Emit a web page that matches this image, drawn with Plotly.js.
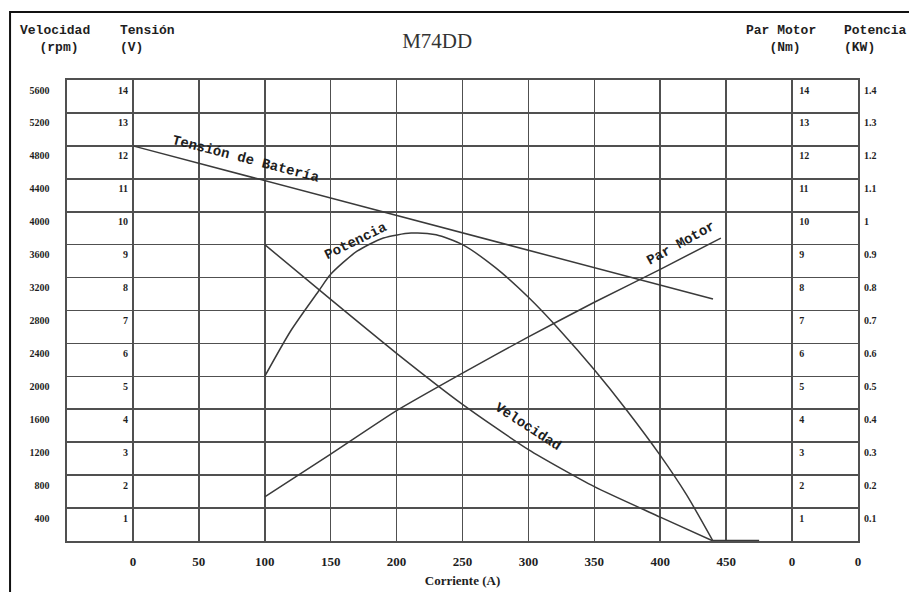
<!DOCTYPE html>
<html>
<head>
<meta charset="utf-8">
<script src="https://cdn.plot.ly/plotly-3.0.1.min.js"></script>
<style>html,body{margin:0;padding:0;background:#fff;}#chart{width:909px;height:592px;}</style>
</head>
<body>
<div id="chart"></div>
<script>
// Corriente (A) and values
const tensionX = [0, 440];
const tensionV = [12, 7.35];

const velocidadX = [100, 150, 200, 250, 300, 350, 400, 440];
const velocidadRpm = [3600, 2935, 2280, 1660, 1110, 660, 290, 0];
const velocidadTailX = [440, 475];
const velocidadTailRpm = [0, 0];

const parX = [100, 150, 200, 250, 300, 350, 400, 446];
const parNm = [1.34, 2.64, 3.96, 5.1, 6.2, 7.25, 8.25, 9.2];

const potenciaX = [100, 120, 141, 150, 170, 190, 211, 230, 250, 275, 300, 325, 350, 375, 400, 420, 440];
const potenciaKW = [0.50, 0.64, 0.76, 0.81, 0.88, 0.92, 0.935, 0.93, 0.90, 0.83, 0.74, 0.635, 0.52, 0.395, 0.26, 0.14, 0.0];

const xTickVals = [0, 50, 100, 150, 200, 250, 300, 350, 400, 450, 500, 550];
const xTickText = ['0', '50', '100', '150', '200', '250', '300', '350', '400', '450', '0', '0'];
const rpmTicks = [400, 800, 1200, 1600, 2000, 2400, 2800, 3200, 3600, 4000, 4400, 4800, 5200, 5600];
const voltTicks = [1, 2, 3, 4, 5, 6, 7, 8, 9, 10, 11, 12, 13, 14];
const nmTicks = [1, 2, 3, 4, 5, 6, 7, 8, 9, 10, 11, 12, 13, 14];
const kwTicks = [0.1, 0.2, 0.3, 0.4, 0.5, 0.6, 0.7, 0.8, 0.9, 1.0, 1.1, 1.2, 1.3, 1.4];
const kwTickText = ['0.1', '0.2', '0.3', '0.4', '0.5', '0.6', '0.7', '0.8', '0.9', '1', '1.1', '1.2', '1.3', '1.4'];

const lineStyle = {color: '#3a3a3a', width: 1.5};
const serif = 'Liberation Serif, Times New Roman, serif';
const mono = 'Liberation Mono, Courier New, monospace';
const ink = '#1e1e1e';
const tickFont = {family: serif, size: 10, color: ink, weight: 'bold'};

const traces = [
  {x: tensionX, y: tensionV, yaxis: 'y2', mode: 'lines', line: lineStyle, name: 'Tensión de Batería'},
  {x: velocidadX, y: velocidadRpm, yaxis: 'y', mode: 'lines', line: Object.assign({shape: 'spline', smoothing: 0.6}, lineStyle), name: 'Velocidad'},
  {x: velocidadTailX, y: velocidadTailRpm, yaxis: 'y', mode: 'lines', line: {color: '#3a3a3a', width: 2.5}, name: 'Velocidad'},
  {x: parX, y: parNm, yaxis: 'y3', mode: 'lines', line: Object.assign({shape: 'spline', smoothing: 0.5}, lineStyle), name: 'Par Motor'},
  {x: potenciaX, y: potenciaKW, yaxis: 'y4', mode: 'lines', line: Object.assign({shape: 'spline', smoothing: 0.7}, lineStyle), name: 'Potencia'}
];

const grid = '#505050';
const layout = {
  width: 909, height: 592,
  margin: {l: 67, r: 51, t: 80, b: 51},
  paper_bgcolor: '#ffffff', plot_bgcolor: '#ffffff',
  showlegend: false,
  title: {text: 'M74DD', font: {family: serif, size: 21, color: '#333'}, x: 0.468, xref: 'paper', xanchor: 'center', y: 0.932, yref: 'container', yanchor: 'middle'},
  xaxis: {
    range: [-50, 550], tickvals: xTickVals, ticktext: xTickText,
    showgrid: true, gridcolor: grid, gridwidth: 1.6, zeroline: false,
    showline: true, mirror: true, linecolor: grid, linewidth: 1.6,
    ticks: '', ticklabelstandoff: 8,
    tickfont: {family: serif, size: 13, color: ink, weight: 'bold'},
    title: {text: 'Corriente (A)', font: {family: serif, size: 13, color: ink, weight: 'bold'}, standoff: 7},
    automargin: false, fixedrange: true
  },
  yaxis: {
    range: [0, 5600], tickvals: rpmTicks,
    showgrid: true, gridcolor: grid, gridwidth: 1.6, zeroline: false,
    showline: true, mirror: true, linecolor: grid, linewidth: 1.6,
    ticks: '', ticklabelshift: 10, ticklabelstandoff: 14,
    tickfont: tickFont, automargin: false, fixedrange: true
  },
  yaxis2: {
    range: [0, 14], tickvals: voltTicks, overlaying: 'y', anchor: 'free', position: 0.0834, side: 'left',
    showgrid: false, zeroline: false, showline: false, ticks: '', ticklabelshift: 10, ticklabelstandoff: 5,
    tickfont: tickFont, automargin: false, fixedrange: true
  },
  yaxis3: {
    range: [0, 14], tickvals: nmTicks, overlaying: 'y', anchor: 'free', position: 0.918, side: 'right',
    showgrid: false, zeroline: false, showline: false, ticks: '', ticklabelshift: 10, ticklabelstandoff: 5,
    tickfont: tickFont, automargin: false, fixedrange: true
  },
  yaxis4: {
    range: [0, 1.4], tickvals: kwTicks, ticktext: kwTickText, overlaying: 'y', anchor: 'x', side: 'right',
    showgrid: false, zeroline: false, showline: false, ticks: '', ticklabelshift: 10, ticklabelstandoff: 5,
    tickfont: tickFont, automargin: false, fixedrange: true
  },
  shapes: [
    {type: 'rect', xref: 'paper', yref: 'paper', x0: -0.072, x1: 1.08, y0: -0.14, y1: 1.1475, line: {color: '#111', width: 2}}
  ],
  annotations: [
    {text: 'Velocidad<br> (rpm)', xref: 'paper', yref: 'paper', x: -0.015, y: 1.09, xanchor: 'center', yanchor: 'middle', showarrow: false, align: 'center', font: {family: mono, size: 13, color: ink, weight: 'bold'}},
    {text: 'Tensión<br>(V)', xref: 'paper', yref: 'paper', x: 0.065, y: 1.09, xanchor: 'left', yanchor: 'middle', showarrow: false, align: 'left', font: {family: mono, size: 13, color: ink, weight: 'bold'}},
    {text: 'Par Motor<br>   (Nm)', xref: 'paper', yref: 'paper', x: 0.95, y: 1.09, xanchor: 'right', yanchor: 'middle', showarrow: false, align: 'left', font: {family: mono, size: 13, color: ink, weight: 'bold'}},
    {text: 'Potencia<br>(KW)', xref: 'paper', yref: 'paper', x: 0.98, y: 1.09, xanchor: 'left', yanchor: 'middle', showarrow: false, align: 'left', font: {family: mono, size: 13, color: ink, weight: 'bold'}},
    {text: 'Tensión de Batería', xref: 'x', yref: 'y2', x: 86, y: 11.6, textangle: 14.6, showarrow: false, font: {family: mono, size: 14, color: ink, weight: 'bold'}},
    {text: 'Potencia', xref: 'x', yref: 'y2', x: 169, y: 9.11, textangle: -26, showarrow: false, font: {family: mono, size: 14, color: ink, weight: 'bold'}},
    {text: 'Par Motor', xref: 'x', yref: 'y2', x: 416, y: 9.05, textangle: -29, showarrow: false, font: {family: mono, size: 14, color: ink, weight: 'bold'}},
    {text: 'Velocidad', xref: 'x', yref: 'y2', x: 300, y: 3.45, textangle: 33, showarrow: false, font: {family: mono, size: 14, color: ink, weight: 'bold'}}
  ]
};

Plotly.newPlot('chart', traces, layout, {displayModeBar: false, staticPlot: true});
</script>
</body>
</html>
